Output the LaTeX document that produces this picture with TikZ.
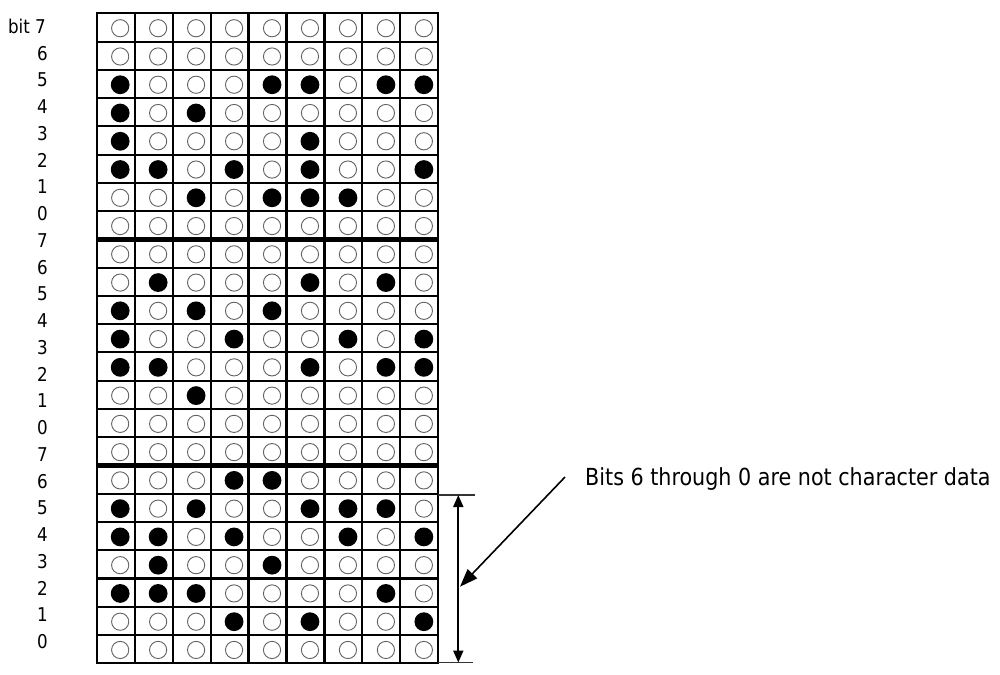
\documentclass[tikz,border=0pt]{standalone}
\usepackage{fontspec}
\setmainfont{DejaVu Sans}[FakeStretch=0.88]
\usetikzlibrary{arrows.meta,positioning}

\begin{document}
\begin{tikzpicture}[
  x=1pt, y=-1pt,
  font=\fontsize{19}{22}\selectfont,
  gridline/.style={line width=2.1pt},
  grouprule/.style={line width=5pt},
  dotoff/.style={draw=black!62, line width=0.9pt, fill=white},
  doton/.style={fill=black},
  dimline/.style={line width=1.9pt, {Triangle[length=12pt,width=10pt]}-{Triangle[length=12pt,width=10pt]}},
  extline/.style={line width=1.2pt, black!80},
  callout/.style={line width=1.6pt, -{Triangle[length=18pt,width=13pt]}},
  notetext/.style={font=\fontsize{23.5}{28}\selectfont, inner sep=0}
]
\useasboundingbox (0,0) rectangle (1000,674);
\def\cw{37.96}
\def\rh{28.26}
\coordinate (nw) at (96.7,13.3);
\coordinate (se) at (438.3,663.3);

% -- Dots: one line of nine per row, 1 = filled.
\foreach \bits [count=\r] in {
  {0,0,0,0,0,0,0,0,0},
  {0,0,0,0,0,0,0,0,0},
  {1,0,0,0,1,1,0,1,1},
  {1,0,1,0,0,0,0,0,0},
  {1,0,0,0,0,1,0,0,0},
  {1,1,0,1,0,1,0,0,1},
  {0,0,1,0,1,1,1,0,0},
  {0,0,0,0,0,0,0,0,0},
  {0,0,0,0,0,0,0,0,0},
  {0,1,0,0,0,1,0,1,0},
  {1,0,1,0,1,0,0,0,0},
  {1,0,0,1,0,0,1,0,1},
  {1,1,0,0,0,1,0,1,1},
  {0,0,1,0,0,0,0,0,0},
  {0,0,0,0,0,0,0,0,0},
  {0,0,0,0,0,0,0,0,0},
  {0,0,0,1,1,0,0,0,0},
  {1,0,1,0,0,1,1,1,0},
  {1,1,0,1,0,0,1,0,1},
  {0,1,0,0,1,0,0,0,0},
  {1,1,1,0,0,0,0,1,0},
  {0,0,0,1,0,1,0,0,1},
  {0,0,0,0,0,0,0,0,0}}
{
  \foreach \b [count=\c] in \bits {
    \ifnum\b=1
      \fill[doton] ({96.7+(\c-0.5)*\cw+4.5},{13.3+(\r-0.5)*\rh+0.8}) circle (9.4);
    \else
      \draw[dotoff] ({96.7+(\c-0.5)*\cw+4.5},{13.3+(\r-0.5)*\rh+0.8}) circle (8.6);
    \fi
  }
}

% -- Grid: thin cell lines, heavy rules between the byte groups.
\foreach \c in {1,...,8}
  \draw[gridline] ({96.7+\c*\cw},13.3) -- ({96.7+\c*\cw},663.3);
\foreach \r in {1,...,22}
  \draw[gridline] (96.7,{13.3+\r*\rh}) -- (438.3,{13.3+\r*\rh});
\foreach \r in {8,16}
  \draw[grouprule] (96.7,{13.3+\r*\rh}) -- (438.3,{13.3+\r*\rh});
\draw[gridline] (nw) rectangle (se);

% -- Bit numbers down the left side.
\node[anchor=east, inner sep=0] (lbl0) at (46,26.5) {bit 7};
\foreach \t [count=\i] in {6,5,4,3,2,1,0,7,6,5,4,3,2,1,0,7,6,5,4,3,2,1,0}
  \node[inner sep=0] (lbl\i) at (42.5,{26.5+26.74*\i}) {\t};

% -- Span of the last six rows and its note.
\coordinate (dimtop) at (458.3,495);
\coordinate (dimbot) at (458.3,662.5);
\draw[extline] (se |- dimtop) -- ++(37,0);
\draw[extline] (se |- dimbot) -- ++(35,0);
\draw[dimline] (dimtop) -- (dimbot);

\node[notetext, anchor=base west] (note) at (585,485) {Bits 6 through 0 are not character data};
\coordinate (tip) at (460,586.7);
\draw[callout] ([xshift=-20pt,yshift=1.5pt]note.west) -- (tip);
\end{tikzpicture}
\end{document}
